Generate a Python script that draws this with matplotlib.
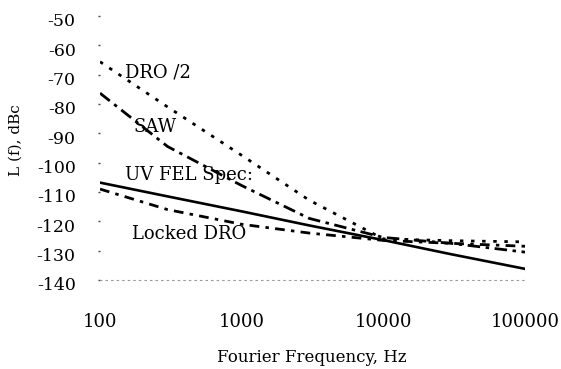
import matplotlib
matplotlib.use("Agg")
import matplotlib.pyplot as plt
from matplotlib.transforms import ScaledTranslation

plt.rcParams['font.family'] = ['DejaVu Serif']
plt.rcParams['axes.unicode_minus'] = False
plt.rcParams['lines.scale_dashes'] = False

freq = [100, 300, 1000, 3000, 10000, 30000, 100000]
dro2 = [-65.6, -81.0, -97.5, -112.8, -126.0, -126.6, -127.0]
saw = [-76.3, -94.5, -107.8, -119.0, -125.5, -127.5, -130.5]
uvfel = [-106.8, -111.5, -116.6, -121.4, -126.4, -131.2, -136.2]
locked = [-109.0, -116.0, -121.0, -124.0, -126.5, -127.5, -128.5]

yticks = [-50, -60, -70, -80, -90, -100, -110, -120, -130, -140]
xticks = [100, 1000, 10000, 100000]
xtick_labels = ["100", "1000", "10000", "100000"]

fig = plt.figure(figsize=(5.61, 3.69), dpi=100)
W, H = 561, 369
ax = fig.add_axes([100 / W, 1 - 280 / H, 425 / W, 264 / H])

ax.plot(freq, uvfel, color='black', lw=1.9, linestyle='-')
ax.plot(freq, dro2, color='black', lw=2.0, linestyle=(0, (2.5, 5.5)))
ax.plot(freq, saw, color='black', lw=2.0, linestyle=(0, (9, 4, 2.5, 4)))
ax.plot(freq, locked, color='black', lw=2.0, linestyle=(0, (7, 4.5, 2.5, 4.5)))

ax.set_xscale('log')
ax.set_xlim(100, 100000)
ax.set_ylim(-140, -50)
ax.set_xticks(xticks)
ax.set_xticklabels(xtick_labels)
ax.minorticks_off()
ax.set_yticks(yticks)
ax.set_yticklabels([str(v) for v in yticks])

for s in ['top', 'right', 'left']:
    ax.spines[s].set_visible(False)
ax.spines['bottom'].set_color('#999999')
ax.spines['bottom'].set_linestyle((0, (1, 3)))
ax.spines['bottom'].set_linewidth(0.8)

ax.tick_params(axis='y', length=1.5, width=1.0, color='#444444', pad=16, labelsize=12.5)
ax.tick_params(axis='x', length=0, pad=24, labelsize=13)
for lab in ax.get_yticklabels():
    lab.set_transform(lab.get_transform() + ScaledTranslation(0, -4 / 100, fig.dpi_scale_trans))

ax.text(150, -69.4, "DRO /2", fontsize=13, va='center', ha='left')
ax.text(171, -87.8, "SAW", fontsize=13, va='center', ha='left')
ax.text(150, -104.2, "UV FEL Spec:", fontsize=13, va='center', ha='left')
ax.text(168, -124.3, "Locked DRO", fontsize=13, va='center', ha='left')

fig.text(312 / W, 1 - 358 / H, "Fourier Frequency, Hz", fontsize=12, ha='center', va='center')
fig.text(16 / W, 1 - 140 / H, "L (f), dBc", fontsize=11, ha='center', va='center', rotation=90)

fig.savefig("out.png", dpi=100)
